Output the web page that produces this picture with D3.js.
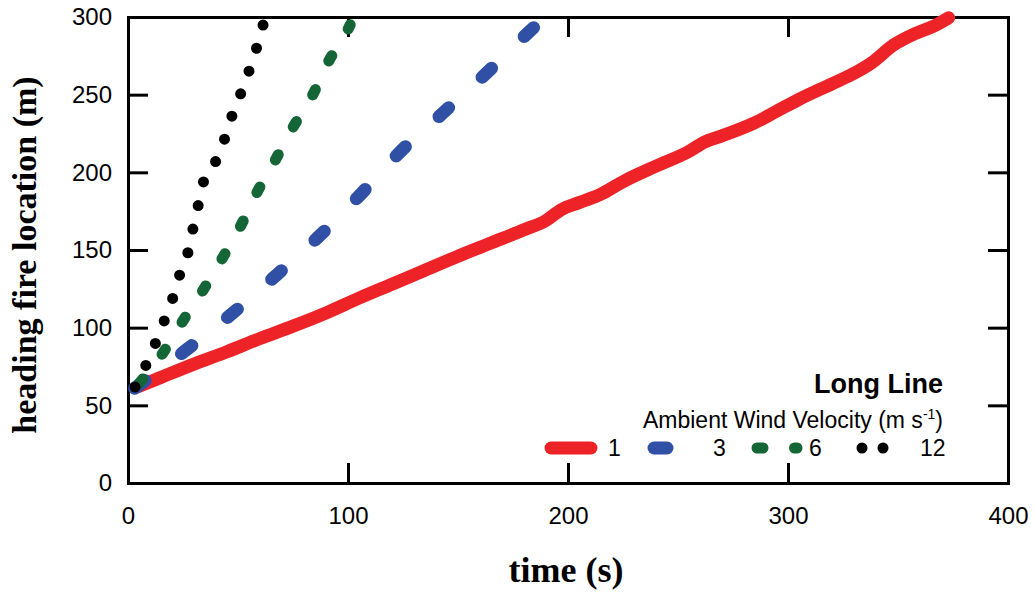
<!DOCTYPE html>
<html>
<head>
<meta charset="utf-8">
<script src="https://cdn.jsdelivr.net/npm/d3@7"></script>
<style>
  html, body { margin: 0; padding: 0; background: #fff; }
  svg { display: block; }
</style>
</head>
<body>
<svg id="chart" width="1035" height="592"></svg>
<script>
// Axis ticks
const xTicks = [0, 100, 200, 300, 400];
const yTicks = [0, 50, 100, 150, 200, 250, 300];

// Legend entries (ambient wind velocity, m/s)
const windLabels = ["1", "3", "6", "12"];

// Heading fire location (m) versus time (s), one array per wind velocity
const wind1 = [
  [4.5, 62], [15, 68], [30, 76.5], [45, 84.5], [60, 93], [75, 101],
  [90, 109.5], [105, 119], [120, 128], [135, 137], [150, 146], [165, 154.5],
  [180, 163], [190, 169], [197, 176], [205, 180.5], [215, 186], [225, 194],
  [240, 204], [255, 213.5], [262, 219.5], [270, 223.5], [285, 232], [295, 239.5],
  [305, 247], [320, 257], [331, 264.5], [338, 270.5], [348, 282], [358, 289.5],
  [366, 294], [373, 299.5]
];
const wind3 = [
  [3, 61], [26.4, 85.6], [46.4, 108], [66, 132], [86, 157.7], [104.5, 184],
  [123.6, 213], [143, 238], [163, 264], [182, 290], [185, 294]
];
const wind6 = [
  [5, 64], [16, 84], [25.5, 105.6], [34.5, 125], [43, 145], [51.4, 166],
  [58.6, 187], [67, 208], [75, 229], [84, 250], [91, 271], [100, 292], [101, 295]
];
const wind12 = [
  [3.2, 61.8], [8.2, 76], [12.7, 90.8], [16.8, 105.6], [20.5, 119.7], [23.6, 134.5],
  [27.3, 148.7], [29.5, 163.5], [31.8, 178], [34.2, 193.3], [40, 207.5], [44.1, 222.3],
  [47.3, 236.5], [51.4, 251.3], [55.2, 265.9], [58.5, 280.3], [61.5, 295.4], [62.2, 299]
];

const colors = ["#ee2328", "#3050a5", "#156637", "#000000"];
const styles = [
  { width: 13, dash: null },
  { width: 13, dash: "13,45.4" },
  { width: 11, dash: "6,31.5" },
  { width: 11, dash: "0,24.1" }
];
const seriesData = [wind1, wind3, wind6, wind12];

const svg = d3.select("#chart");
const sansFont = "'Liberation Sans', Arial, Helvetica, sans-serif";
const serifFont = "'Liberation Serif', 'Times New Roman', Times, serif";

const x = d3.scaleLinear().domain([0, 400]).range([128, 1008]);
const y = d3.scaleLinear().domain([0, 300]).range([483, 17]);

// Frame with inward ticks on all four sides
function styleAxis(g) {
  g.attr("font-family", sansFont).attr("font-size", 24);
  g.select(".domain").attr("stroke", "#000").attr("stroke-width", 3).attr("stroke-linecap", "square");
  g.selectAll(".tick line").attr("stroke", "#000").attr("stroke-width", 3);
  g.selectAll(".tick text").attr("fill", "#000");
}

svg.append("g")
  .attr("transform", `translate(0,${y(0)})`)
  .call(d3.axisBottom(x).tickValues(xTicks).tickSizeInner(-20).tickSizeOuter(0).tickPadding(24))
  .call(styleAxis);

svg.append("g")
  .attr("transform", `translate(0,${y(300)})`)
  .call(d3.axisTop(x).tickValues(xTicks).tickSizeInner(-20).tickSizeOuter(0).tickFormat(""))
  .call(styleAxis);

svg.append("g")
  .attr("transform", `translate(${x(0)},0)`)
  .call(d3.axisLeft(y).tickValues(yTicks).tickSizeInner(-20).tickSizeOuter(0).tickPadding(16))
  .call(styleAxis);

svg.append("g")
  .attr("transform", `translate(${x(400)},0)`)
  .call(d3.axisRight(y).tickValues(yTicks).tickSizeInner(-20).tickSizeOuter(0).tickFormat(""))
  .call(styleAxis);

// Data lines
const line = d3.line().x(d => x(d[0])).y(d => y(d[1])).curve(d3.curveMonotoneX);

seriesData.forEach((data, i) => {
  const p = svg.append("path")
    .datum(data)
    .attr("d", line)
    .attr("fill", "none")
    .attr("stroke", colors[i])
    .attr("stroke-width", styles[i].width)
    .attr("stroke-linecap", "round")
    .attr("stroke-linejoin", "round");
  if (styles[i].dash) p.attr("stroke-dasharray", styles[i].dash);
});

// Axis titles
svg.append("text")
  .attr("transform", "translate(36,255) rotate(-90)")
  .attr("text-anchor", "middle")
  .attr("font-family", serifFont)
  .attr("font-weight", "bold")
  .attr("font-size", 34)
  .text("heading fire location (m)");

svg.append("text")
  .attr("x", 566).attr("y", 582)
  .attr("text-anchor", "middle")
  .attr("font-family", serifFont)
  .attr("font-weight", "bold")
  .attr("font-size", 36)
  .text("time (s)");

// Legend
const legend = svg.append("g").attr("font-family", sansFont).attr("fill", "#000");

legend.append("text")
  .attr("x", 943).attr("y", 393)
  .attr("text-anchor", "end")
  .attr("font-weight", "bold")
  .attr("font-size", 27)
  .text("Long Line");

const sub = legend.append("text")
  .attr("x", 943).attr("y", 428)
  .attr("text-anchor", "end")
  .attr("font-size", 23);
sub.append("tspan").text("Ambient Wind Velocity (m s");
sub.append("tspan").attr("font-size", 14).attr("dy", -9).text("-1");
sub.append("tspan").attr("dy", 9).text(")");

const legendStart = [551, 654, 757, 862];
const legendText = [608, 713, 809, 920];
windLabels.forEach((lab, i) => {
  const s = legend.append("line")
    .attr("x1", legendStart[i]).attr("x2", legendStart[i] + 40)
    .attr("y1", 448).attr("y2", 448)
    .attr("stroke", colors[i])
    .attr("stroke-width", styles[i].width)
    .attr("stroke-linecap", "round");
  if (styles[i].dash) s.attr("stroke-dasharray", i === 3 ? "0,21" : styles[i].dash);
  legend.append("text")
    .attr("x", legendText[i]).attr("y", 456)
    .attr("font-size", 23)
    .text(lab);
});
</script>
</body>
</html>
